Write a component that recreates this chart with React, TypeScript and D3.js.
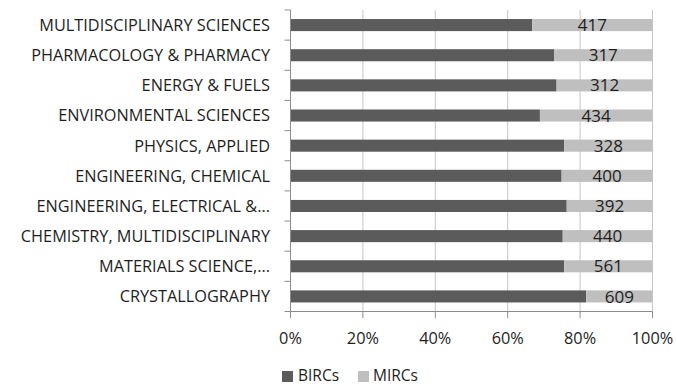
import React from "react";
import * as d3 from "d3";

const categories = [
  "MULTIDISCIPLINARY SCIENCES",
  "PHARMACOLOGY & PHARMACY",
  "ENERGY & FUELS",
  "ENVIRONMENTAL SCIENCES",
  "PHYSICS, APPLIED",
  "ENGINEERING, CHEMICAL",
  "ENGINEERING, ELECTRICAL &...",
  "CHEMISTRY, MULTIDISCIPLINARY",
  "MATERIALS SCIENCE,...",
  "CRYSTALLOGRAPHY",
];
const bircShare = [0.668, 0.728, 0.735, 0.689, 0.756, 0.749, 0.763, 0.752, 0.756, 0.817];
const mircCounts = [417, 317, 312, 434, 328, 400, 392, 440, 561, 609];
const xTicks = [0, 0.2, 0.4, 0.6, 0.8, 1];
const seriesNames = ["BIRCs", "MIRCs"];

const W = 677;
const H = 385;
const FONT = "'Open Sans', sans-serif";
const DARK = "#5b5b5b";
const LIGHT = "#bfbfbf";
const AXIS = "#8c8c8c";
const GRID = "#c6c6c6";
const TEXT = "#1e1e1e";

export default function App() {
  const x = d3.scaleLinear().domain([0, 1]).range([290.5, 652.5]);
  const y = d3.scaleBand<string>().domain(categories).range([10, 311.5]).paddingInner(0.6).paddingOuter(0.3);
  const yb = d3.scaleBand<string>().domain(categories).range([10, 311.5]);
  const boundaries = categories.map((c) => yb(c)!).concat([311.5]);
  return (
    <svg width={W} height={H} style={{ position: "absolute", left: 0, top: 0 }}>
      <rect x={0} y={0} width={W} height={H} fill="#fff" />
      {xTicks.slice(1).map((t) => (
        <line key={"g" + t} x1={x(t)} x2={x(t)} y1={10} y2={311.5} stroke={GRID} strokeWidth={1} />
      ))}
      {categories.map((c, i) => {
        const y0 = y(c)!;
        const bh = y.bandwidth();
        const xs = x(bircShare[i]);
        return (
          <g key={c}>
            <rect x={x(0)} y={y0} width={xs - x(0)} height={bh} fill={DARK} />
            <rect x={xs} y={y0} width={x(1) - xs} height={bh} fill={LIGHT} />
            <text
              x={(xs + x(1)) / 2}
              y={y0 + bh / 2}
              dy="0.36em"
              textAnchor="middle"
              fontFamily={FONT}
              fontSize={17}
              fill={TEXT}
            >
              {mircCounts[i]}
            </text>
            <text
              x={270}
              y={yb(c)! + yb.bandwidth() / 2}
              dy="0.36em"
              textAnchor="end"
              fontFamily={FONT}
              fontSize={16.3}
              fill={TEXT}
            >
              {c}
            </text>
          </g>
        );
      })}
      <line x1={x(0)} x2={x(0)} y1={10} y2={311.5} stroke={AXIS} />
      <line x1={x(0)} x2={x(1)} y1={311.5} y2={311.5} stroke={AXIS} />
      {boundaries.map((b, i) => (
        <line key={"yt" + i} x1={x(0) - 6} x2={x(0)} y1={b} y2={b} stroke={AXIS} />
      ))}
      {xTicks.map((t) => (
        <g key={"xt" + t}>
          <line x1={x(t)} x2={x(t)} y1={311.5} y2={318} stroke={AXIS} />
          <text x={x(t)} y={338} dy="0.36em" textAnchor="middle" fontFamily={FONT} fontSize={16.3} fill={TEXT}>
            {d3.format(".0%")(t)}
          </text>
        </g>
      ))}
      <g>
        <rect x={282} y={371} width={11} height={11} fill={DARK} />
        <text x={298} y={375.5} dy="0.36em" fontFamily={FONT} fontSize={15.5} fill={TEXT}>
          {seriesNames[0]}
        </text>
        <rect x={358} y={371} width={11} height={11} fill={LIGHT} />
        <text x={373} y={375.5} dy="0.36em" fontFamily={FONT} fontSize={15.5} fill={TEXT}>
          {seriesNames[1]}
        </text>
      </g>
    </svg>
  );
}
